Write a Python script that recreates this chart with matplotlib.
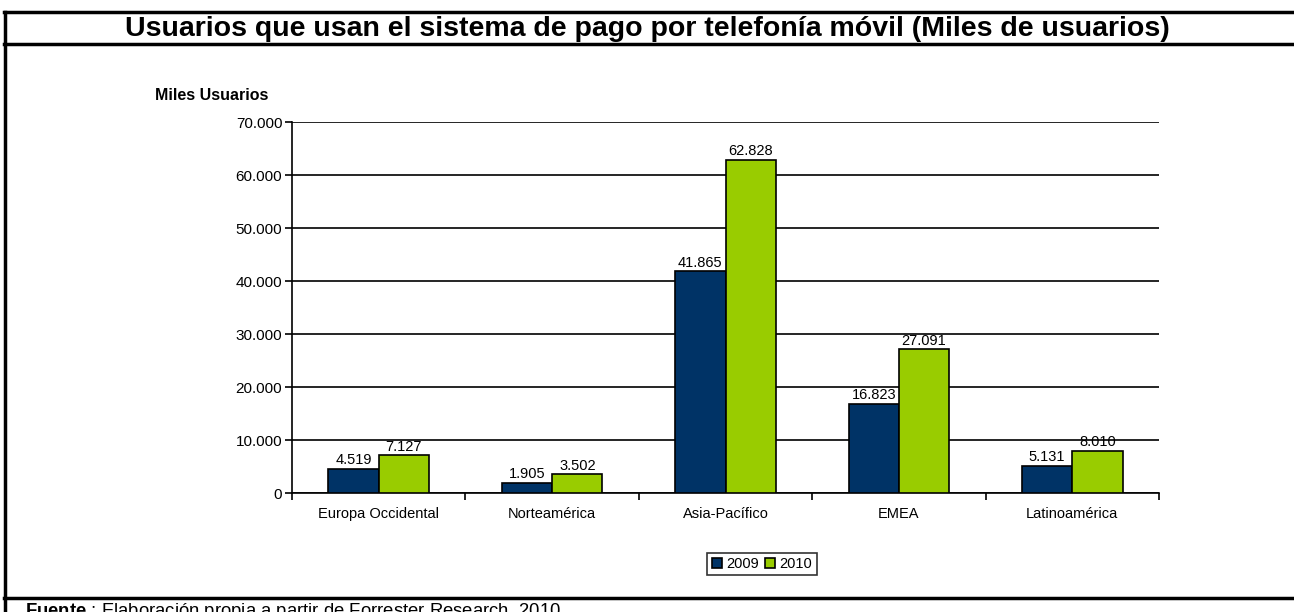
import matplotlib
matplotlib.use("Agg")
import matplotlib.pyplot as plt
import numpy as np
from matplotlib.lines import Line2D
from matplotlib.ticker import FuncFormatter

plt.rcParams['font.family'] = ['Liberation Sans', 'DejaVu Sans']
plt.rcParams['mathtext.fontset'] = 'custom'
plt.rcParams['mathtext.rm'] = 'Liberation Sans'
plt.rcParams['mathtext.bf'] = 'Liberation Sans:bold'

categories = ["Europa Occidental", "Norteamérica", "Asia-Pacífico", "EMEA", "Latinoamérica"]
years = ["2009", "2010"]
values_2009 = [4519, 1905, 41865, 16823, 5131]
values_2010 = [7127, 3502, 62828, 27091, 8010]
colors = ["#003366", "#99CC00"]


def miles(v):
    # thousands separator with a dot, as in the source
    return f"{int(round(v)):,}".replace(",", ".")


fig = plt.figure(figsize=(12.94, 6.12), dpi=100)
ax = fig.add_axes([0.2257, 0.1944, 0.6700, 0.6062])

x = np.arange(len(categories))
width = 0.29
for i, (vals, label) in enumerate(zip([values_2009, values_2010], years)):
    offset = (i - 0.5) * width
    bars = ax.bar(x + offset, vals, width, color=colors[i], edgecolor="black",
                  linewidth=1.2, label=label, zorder=3)
    for b, v in zip(bars, vals):
        ax.text(b.get_x() + b.get_width() / 2, v + 300, miles(v),
                ha="center", va="bottom", fontsize=10.5, zorder=4)

ax.set_xlim(-0.5, len(categories) - 0.5)
ax.set_ylim(0, 70000)
ax.set_yticks(np.arange(0, 70001, 10000))
ax.yaxis.set_major_formatter(FuncFormatter(lambda v, p: miles(v)))
ax.grid(axis="y", color="black", linewidth=1.2, zorder=0)

ax.set_xticks(np.arange(-0.5, len(categories), 1.0))
ax.set_xticklabels([])
ax.set_xticks(x, minor=True)
ax.set_xticklabels(categories, minor=True, fontsize=10.5)
ax.tick_params(axis="x", which="minor", length=0, pad=10)
ax.tick_params(axis="x", which="major", length=5, width=1.2, direction="out")
ax.tick_params(axis="y", length=5, width=1.2, labelsize=11, pad=2)

for s in ["top", "right"]:
    ax.spines[s].set_visible(False)
ax.spines["left"].set_linewidth(1.2)
ax.spines["bottom"].set_linewidth(1.2)

fig.text(155 / 1294, 1 - 95 / 612, "Miles Usuarios", fontsize=11.5, fontweight="bold",
         ha="left", va="center")

fig.text(0.5, 1 - 29 / 612, "Usuarios que usan el sistema de pago por telefonía móvil (Miles de usuarios)",
         fontsize=20.5, fontweight="bold", ha="center", va="center")

leg = ax.legend(loc="center", bbox_to_anchor=(762 / 1294, 1 - 564 / 612),
                bbox_transform=fig.transFigure, ncol=2, frameon=True, fancybox=False,
                edgecolor="black", fontsize=10.5, handlelength=0.7, handleheight=0.7,
                handletextpad=0.3, columnspacing=0.4, borderpad=0.3, borderaxespad=0)
leg.get_frame().set_linewidth(1.2)
for h in leg.legend_handles:
    h.set_linewidth(1.2)

# frame lines
for yy in [1 - 12 / 612, 1 - 44 / 612, 1 - 598 / 612]:
    fig.add_artist(Line2D([0.003, 1.0], [yy, yy], color="black", linewidth=2.5,
                          transform=fig.transFigure))
fig.add_artist(Line2D([0.004, 0.004], [1 - 12 / 612, 0.0], color="black", linewidth=2.5,
                      transform=fig.transFigure))

fig.text(25 / 1294, 1 - 601 / 612, r"$\bf{Fuente}$ : Elaboración propia a partir de Forrester Research, 2010",
         fontsize=13.3, ha="left", va="top")

fig.savefig("out.png", dpi=100)
